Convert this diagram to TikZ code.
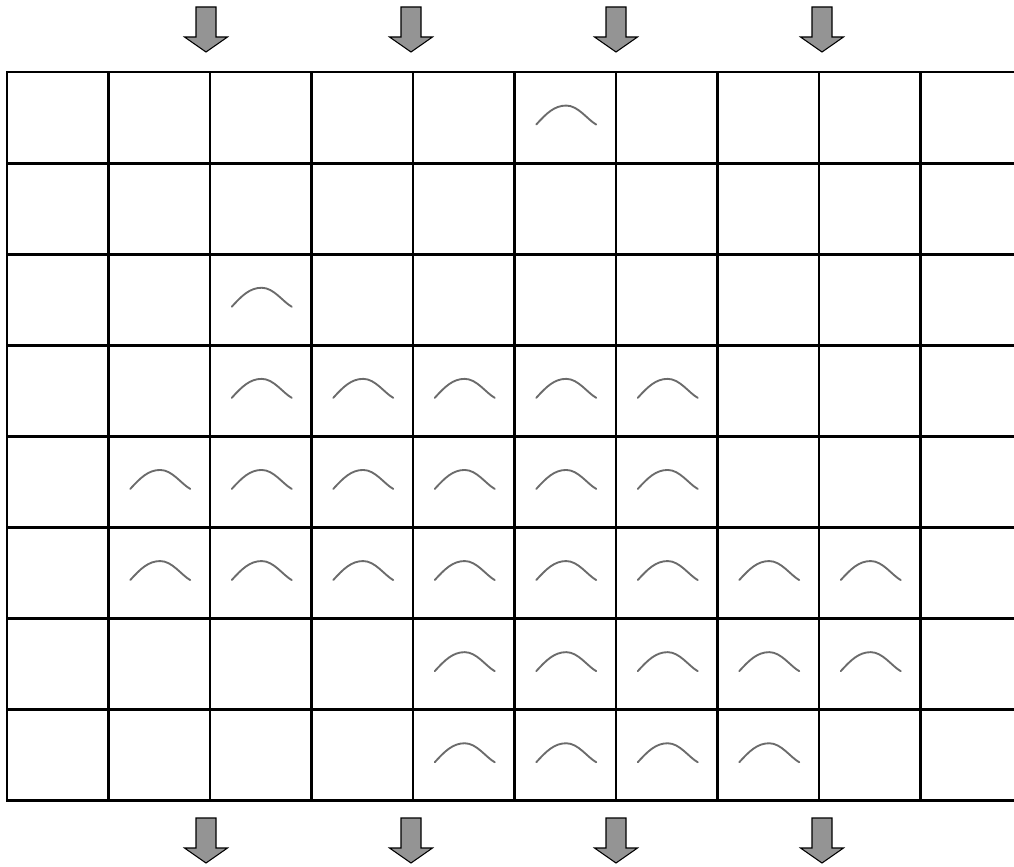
\documentclass[tikz,border=0pt]{standalone}
\begin{document}
\begin{tikzpicture}[x=0.75pt,y=-0.75pt,
  gridline/.style={line width=2.2pt,black,line cap=rect},
  bumpline/.style={line width=1.4pt,color=black!58,line cap=round},
  flowarrow/.style={fill=black!42,draw=black,line width=0.8pt,line join=miter},
  bumpcurve/.pic={\draw[bumpline] (-30,9) .. controls (-20,-2) and (-12,-10) .. (0,-10)
      .. controls (12,-10) and (21,4) .. (30,9);}]
\useasboundingbox (0,0) rectangle (1014,867);
% grid
\foreach \i in {0,...,8} \draw[gridline] (7,{72+91.1*\i}) -- (1014,{72+91.1*\i});
\foreach \j in {0,...,9} \draw[gridline] ({7+101.5*\j},72) -- ({7+101.5*\j},801);
% arrows
\foreach \cx in {206,411,616,822}{
  \foreach \yy in {7,818}{
    \draw[flowarrow] (\cx-10,\yy) -- (\cx+10,\yy) -- (\cx+10,\yy+30) -- (\cx+21.5,\yy+30)
      -- (\cx,\yy+45) -- (\cx-21.5,\yy+30) -- (\cx-10,\yy+30) -- cycle;
  }
}
% bumps: (column,row)
\foreach \c/\r in {5/0, 2/2, 2/3,3/3,4/3,5/3,6/3,
  1/4,2/4,3/4,4/4,5/4,6/4,
  1/5,2/5,3/5,4/5,5/5,6/5,7/5,8/5,
  4/6,5/6,6/6,7/6,8/6,
  4/7,5/7,6/7,7/7}{
  \pic at ({7+101.5*(\c+0.5)+1},{72+91.1*(\r+0.5)-2}) {bumpcurve};
}
\end{tikzpicture}
\end{document}
